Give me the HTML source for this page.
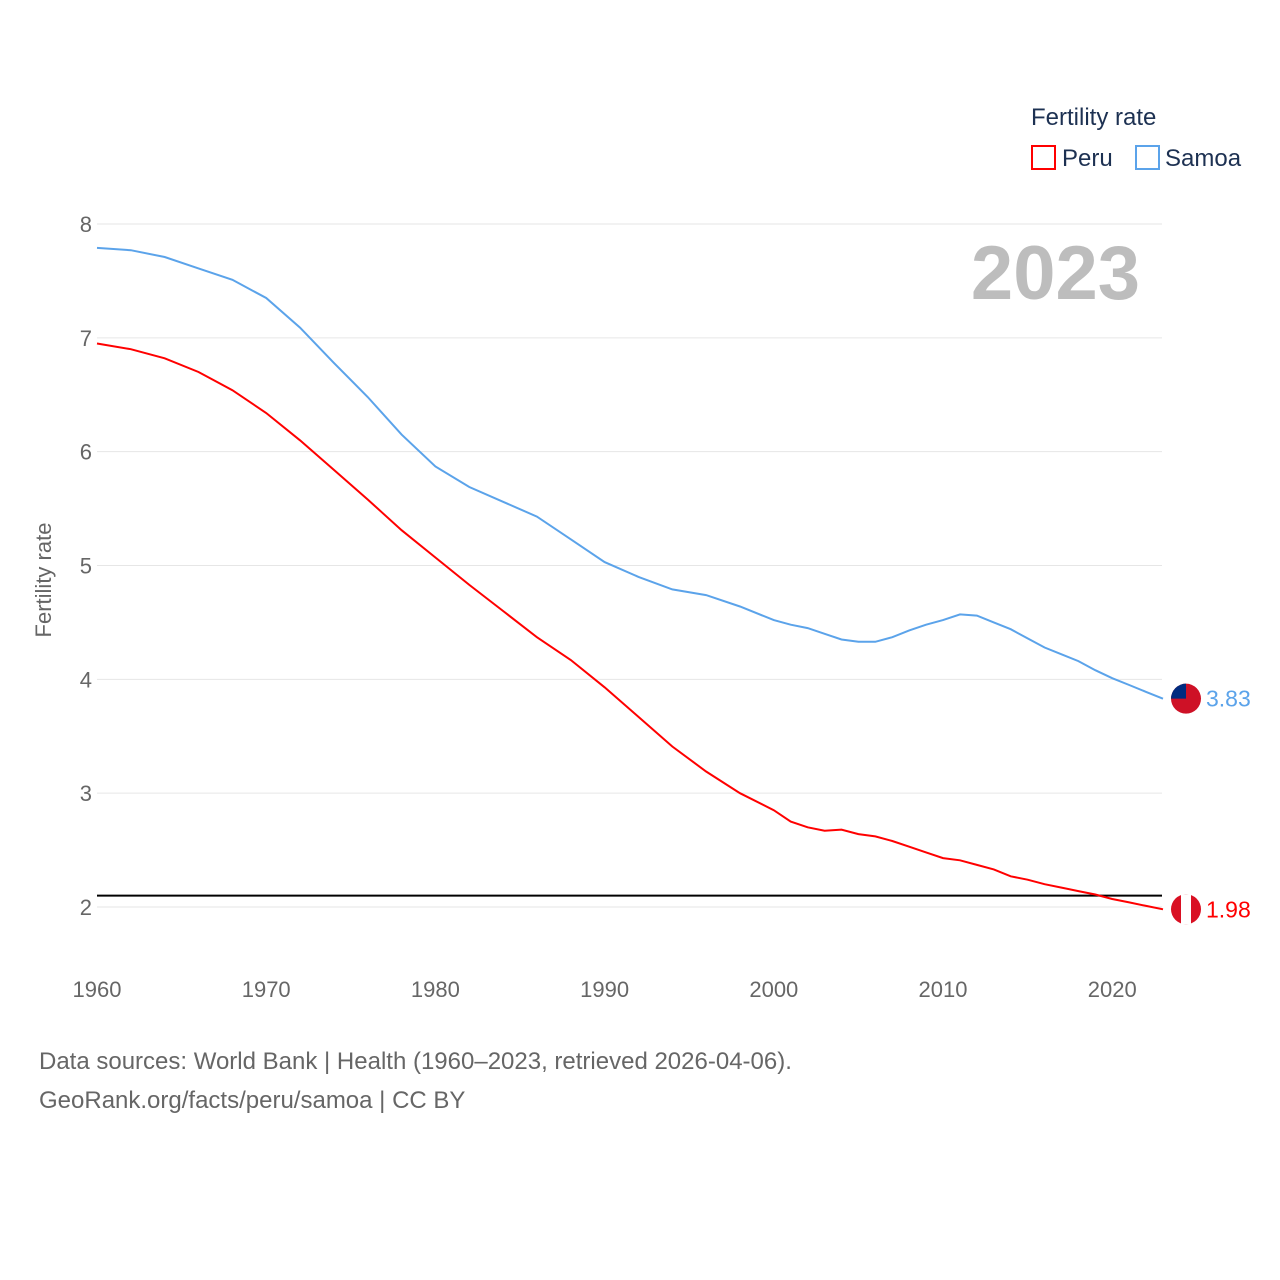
<!DOCTYPE html>
<html><head><meta charset="utf-8">
<style>
html,body{margin:0;padding:0;background:#fff;}
svg{display:block;font-family:"Liberation Sans",sans-serif;}
</style></head>
<body>
<svg id="chart" width="1280" height="1280" viewBox="0 0 1280 1280" xmlns="http://www.w3.org/2000/svg">
<text x="1031" y="125" font-size="24" fill="#1d3152">Fertility rate</text>
<g>
<rect x="1032" y="146" width="23" height="23" fill="none" stroke="#ff0000" stroke-width="2"/>
<text x="1062" y="166" font-size="24" fill="#1d3152">Peru</text></g>
<g>
<rect x="1136" y="146" width="23" height="23" fill="none" stroke="#5ba3ea" stroke-width="2"/>
<text x="1165" y="166" font-size="24" fill="#1d3152">Samoa</text></g>
<text x="1140" y="299" font-size="76" font-weight="bold" fill="#bdbdbd" text-anchor="end">2023</text>
<text transform="translate(51,580) rotate(-90)" font-size="22" fill="#666" text-anchor="middle">Fertility rate</text>
<g id="grid"></g><g id="series"></g>
<text x="39" y="1069" font-size="24" fill="#666">Data sources: World Bank | Health (1960–2023, retrieved 2026-04-06).</text>
<text x="39" y="1108" font-size="24" fill="#666">GeoRank.org/facts/peru/samoa | CC BY</text>
</svg>
<script>
const years=[1960,1962,1964,1966,1968,1970,1972,1974,1976,1978,1980,1982,1984,1986,1988,1990,1992,1994,1996,1998,2000,2001,2002,2003,2004,2005,2006,2007,2008,2009,2010,2011,2012,2013,2014,2015,2016,2017,2018,2019,2020,2021,2022,2023];
const peru=[6.95,6.90,6.82,6.70,6.54,6.34,6.10,5.84,5.58,5.31,5.07,4.83,4.60,4.37,4.17,3.93,3.67,3.41,3.19,3.00,2.85,2.75,2.70,2.67,2.68,2.64,2.62,2.58,2.53,2.48,2.43,2.41,2.37,2.33,2.27,2.24,2.20,2.17,2.14,2.11,2.07,2.04,2.01,1.98];
const samoa=[7.79,7.77,7.71,7.61,7.51,7.35,7.09,6.78,6.48,6.15,5.87,5.69,5.56,5.43,5.23,5.03,4.90,4.79,4.74,4.64,4.52,4.48,4.45,4.40,4.35,4.33,4.33,4.37,4.43,4.48,4.52,4.57,4.56,4.50,4.44,4.36,4.28,4.22,4.16,4.08,4.01,3.95,3.89,3.83];
const yTicks=[2,3,4,5,6,7,8];
const xTicks=[1960,1970,1980,1990,2000,2010,2020];
const refValue=2.1;
const NS="http://www.w3.org/2000/svg";
const x=yr=>97+(yr-1960)*(1163-97)/63;
const y=v=>907-(v-2)*(907-224)/6;
function mk(t,a,p){const e=document.createElementNS(NS,t);for(const k in a)e.setAttribute(k,a[k]);p.appendChild(e);return e;}
const grid=document.getElementById('grid'),ser=document.getElementById('series');
yTicks.forEach(v=>{
const l=mk('line',{x1:97,x2:1162,y1:y(v),y2:y(v),stroke:'#e6e6e6','stroke-width':1},grid);


const t=mk('text',{x:92,y:y(v)+8,'font-size':22,fill:'#666','text-anchor':'end'},grid);t.textContent=v;


});
xTicks.forEach(v=>{
const t=mk('text',{x:x(v),y:997,'font-size':22,fill:'#666','text-anchor':'middle'},grid);t.textContent=v;


});
const ref=mk('line',{x1:97,x2:1162,y1:y(refValue),y2:y(refValue),stroke:'#000','stroke-width':2},ser);


function line(vals,col,name){
const d=vals.map((v,i)=>(i?'L':'M')+x(years[i]).toFixed(1)+','+y(v).toFixed(1)).join('');
const p=mk('path',{d:d,fill:'none',stroke:col,'stroke-width':2},ser);


}
line(samoa,'#5ba3ea','samoa');line(peru,'#ff0000','peru');
// flags + end labels
const lastS=samoa[samoa.length-1],lastP=peru[peru.length-1];
const gS=mk('g',{},ser);


mk('circle',{cx:1186,cy:y(lastS),r:15,fill:'#ce1126'},gS);
mk('path',{d:`M1171,${y(lastS)} A15,15 0 0 1 1186,${y(lastS)-15} L1186,${y(lastS)} Z`,fill:'#002b7f'},gS);
const ts=mk('text',{x:1206,y:y(lastS)+8,'font-size':23,fill:'#5ba3ea'},ser);ts.textContent=lastS.toFixed(2);


const gP=mk('g',{},ser);


mk('circle',{cx:1186,cy:y(lastP),r:15,fill:'#d91023'},gP);
mk('rect',{x:1181,y:y(lastP)-15,width:10,height:30,fill:'#fff'},gP);
const tp=mk('text',{x:1206,y:y(lastP)+8,'font-size':23,fill:'#ff0000'},ser);tp.textContent=lastP.toFixed(2);


</script>
</body></html>
